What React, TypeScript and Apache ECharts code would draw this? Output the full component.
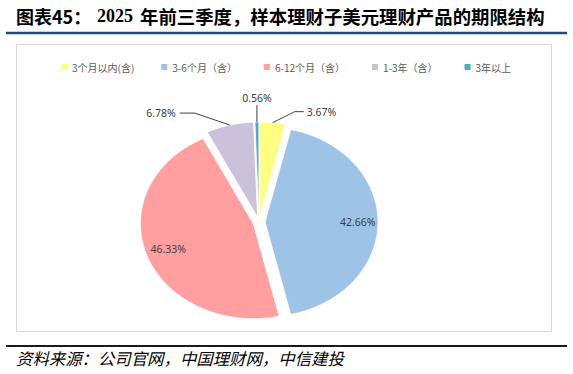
import React, { useEffect, useRef } from "react";
import * as echarts from "echarts";

// ---- data ----
const categories = ["3个月以内(含)", "3-6个月（含）", "6-12个月（含）", "1-3年（含）", "3年以上"];
const shares = [3.67, 42.66, 46.33, 6.78, 0.56];
const sliceColors = ["#FFFF80", "#9DC3E6", "#FF9F9F", "#CCC1DA", "#4BACC6"];

const titleLead = "图表45：";
const titleYear = "2025";
const titleRest = "年前三季度，样本理财子美元理财产品的期限结构";
const sourceText = "资料来源：公司官网，中国理财网，中信建投";

// ---- layout (not data) ----
const CX = 259;
const CY = 222;
const RX = 113;
const RY = 95;
const EX = 6;
const EY = 5;
// label placement per slice
const labelLayout: any[] = [
  { mode: "out", dx: 22, dy: -11, tail: 9 },
  { mode: "in", f: 0.82 },
  { mode: "in", f: 0.8 },
  { mode: "out", dx: -35, dy: -12, tail: -15 },
  { mode: "up", len: 17 },
];

const total = shares.reduce((a, b) => a + b, 0);
const starts: number[] = [];
shares.reduce((acc, v, i) => {
  starts[i] = acc;
  return acc + v;
}, 0);

const LABEL_FONT = "'Noto Sans', 'Open Sans', sans-serif";
const CJK_FONT = "'Noto Sans CJK SC', sans-serif";

function makeRenderItem(i: number) {
  return (params: any, api: any) => {
    const v = api.value(0);
    const a0 = (starts[i] / total) * Math.PI * 2;
    const a1 = ((starts[i] + v) / total) * Math.PI * 2;
    const mid = (a0 + a1) / 2;
    const cx = CX + EX * Math.sin(mid);
    const cy = CY - EY * Math.cos(mid);
    const n = Math.max(2, Math.ceil((a1 - a0) / (Math.PI / 180)));
    const pts: number[][] = [[cx, cy]];
    for (let k = 0; k <= n; k++) {
      const a = a0 + ((a1 - a0) * k) / n;
      pts.push([cx + RX * Math.sin(a), cy - RY * Math.cos(a)]);
    }
    const color = api.visual("color");
    const children: any[] = [
      {
        type: "polygon",
        shape: { points: pts },
        style: { fill: color, stroke: "#ffffff", lineWidth: 0.8 },
      },
    ];
    const label = v.toFixed(2) + "%";
    const L = labelLayout[i];
    const ex = cx + RX * Math.sin(mid);
    const ey = cy - RY * Math.cos(mid);
    const textStyle = {
      fontSize: 10.5,
      fontFamily: LABEL_FONT,
      fill: "#404040",
    };
    if (L.mode === "in") {
      children.push({
        type: "text",
        x: cx + RX * L.f * Math.sin(mid),
        y: cy - RY * L.f * Math.cos(mid),
        style: { ...textStyle, text: label, align: "center", verticalAlign: "middle" },
      });
    } else if (L.mode === "out") {
      const bx = ex + L.dx;
      const by = ey + L.dy;
      const tx = bx + L.tail;
      children.push({
        type: "polyline",
        shape: { points: [[ex, ey], [bx, by], [tx, by]] },
        style: { stroke: "#404040", lineWidth: 1, fill: null },
      });
      children.push({
        type: "text",
        x: tx + (L.tail > 0 ? 3 : -4),
        y: by,
        style: {
          ...textStyle,
          text: label,
          align: L.tail > 0 ? "left" : "right",
          verticalAlign: "middle",
        },
      });
    } else {
      children.push({
        type: "line",
        shape: { x1: ex, y1: ey, x2: ex, y2: ey - L.len },
        style: { stroke: "#404040", lineWidth: 1 },
      });
      children.push({
        type: "text",
        x: ex,
        y: ey - L.len - 2,
        style: { ...textStyle, text: label, align: "center", verticalAlign: "bottom" },
      });
    }
    return { type: "group", children };
  };
}

export default function App() {
  const ref = useRef<HTMLDivElement>(null);
  useEffect(() => {
    document.body.style.margin = "0";
    const chart = echarts.init(ref.current!, undefined, { renderer: "svg" });
    const series = categories.map((name, i) => ({
      type: "custom",
      name,
      coordinateSystem: "none",
      itemStyle: { color: sliceColors[i] },
      data: [[shares[i]]],
      renderItem: makeRenderItem(i),
      silent: true,
    }));
    chart.setOption({
      animation: false,
      backgroundColor: "#ffffff",
      legend: {
        data: categories,
        left: 56,
        top: 57,
        icon: "rect",
        itemWidth: 6,
        itemHeight: 6,
        itemGap: 27,
        selectedMode: false,
        textStyle: { fontSize: 10, color: "#595959", fontFamily: CJK_FONT },
      },
      graphic: [
        {
          type: "rect",
          shape: { x: 16.5, y: 44.5, width: 535, height: 287 },
          style: { fill: "none", stroke: "#D9D9D9", lineWidth: 1 },
          z: -1,
        },
        {
          type: "text",
          x: 16,
          y: 16,
          style: {
            text: titleLead,
            fontSize: 18,
            fontWeight: "bold",
            fontFamily: CJK_FONT,
            fill: "#000000",
            verticalAlign: "middle",
          },
        },
        {
          type: "text",
          x: 97,
          y: 16,
          style: {
            text: titleYear,
            fontSize: 18,
            fontWeight: "bold",
            fontFamily: "'Liberation Serif', serif",
            fill: "#000000",
            verticalAlign: "middle",
          },
        },
        {
          type: "text",
          x: 140,
          y: 16,
          style: {
            text: titleRest,
            fontSize: 18.4,
            fontWeight: "bold",
            fontFamily: CJK_FONT,
            fill: "#000000",
            verticalAlign: "middle",
          },
        },
        {
          type: "line",
          shape: { x1: 6, y1: 33, x2: 567, y2: 33 },
          style: { stroke: "#1F4E79", lineWidth: 2.5 },
        },
        {
          type: "line",
          shape: { x1: 6, y1: 346, x2: 567, y2: 346 },
          style: { stroke: "#1a1a1a", lineWidth: 2 },
        },
        {
          type: "text",
          x: 16,
          y: 358,
          style: {
            text: sourceText,
            fontSize: 16.4,
            fontStyle: "italic",
            fontFamily: CJK_FONT,
            fill: "#000000",
            verticalAlign: "middle",
          },
        },
      ],
      series,
    });
    return () => chart.dispose();
  }, []);
  return (
    <div
      ref={ref}
      style={{ position: "absolute", left: 0, top: 0, width: 573, height: 374 }}
    />
  );
}
